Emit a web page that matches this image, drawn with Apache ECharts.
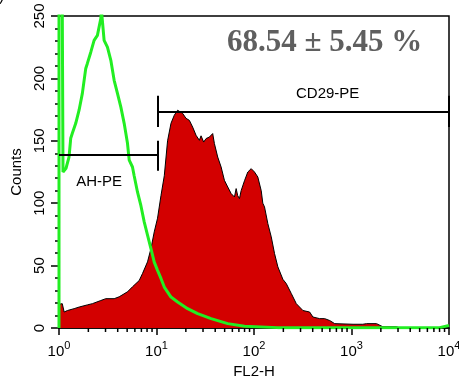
<!DOCTYPE html>
<html>
<head>
<meta charset="utf-8">
<script src="https://cdn.jsdelivr.net/npm/echarts@6/dist/echarts.min.js"></script>
<style>
  html, body { margin: 0; padding: 0; background: #fff; }
  #chart { width: 459px; height: 379px; }
</style>
</head>
<body>
<div id="chart"></div>
<script>
// FL2-H channel (log) and counts
const cd29X = [1, 1.08, 1.13, 1.17, 1.22, 1.43, 1.61, 1.67, 1.95, 2.2, 2.29, 2.68, 3.02, 3.14, 3.68,
  4.14, 4.31, 5.04, 5.67, 5.9, 6.64, 7.18, 7.48, 8.09, 8.41, 8.77, 9.48, 10.25, 11.11, 12.02,
  12.99, 14.08, 15.22, 16.46, 17.14, 18.53, 20.08, 21.72, 23.48, 25.45, 27.52, 28.64, 30.46, 32.25, 34.86,
  37.7, 39.25, 42.44, 45.99, 49.74, 53.79, 58.3, 63.04, 65.6, 68.1, 70.95, 73.8, 79.9, 86.4, 93.6,
  101.2, 109.4, 118.6, 123.1, 128.2, 138.7, 150.3, 162.5, 175.7, 197.8, 214.3, 241.3, 271.6, 317.6, 372.1,
  402.3, 471.6, 530.8, 597.4, 672.6, 1037, 1305, 1424, 1806, 2096, 2899, 3133, 10000]
const cd29Counts = [19, 19.5, 12.8, 12.8, 14, 15.5, 16.8, 17, 18.5, 19.5, 21, 22, 23.5, 23.5, 23.5,
  25, 25, 29, 33, 34, 38, 43.6, 45, 53, 54, 63.6, 77, 88, 106, 122,
  150, 164, 170.5, 174.5, 176, 172, 168, 166.4, 161, 154.4, 150.4, 154, 149, 151.8, 153,
  155.8, 147.8, 137, 129, 118.3, 113, 107.7, 105, 111.7, 106, 103.7, 110, 118, 125, 127.7,
  125, 121, 110, 100, 97, 83.6, 73, 59.6, 49, 39, 35.6, 27.6, 19.5, 14, 12.8,
  8.8, 7.5, 7.5, 6, 3.5, 3, 3, 3.5, 3.5, 1, 1, 0, 0]

const ahX = [1, 1, 1.061, 1.099, 1.18, 1.267, 1.319, 1.37, 1.485, 1.606, 1.736, 1.881, 1.954, 2.118, 2.291, 2.477,
  2.684, 2.723, 2.902, 3.139, 3.401, 3.678, 3.977, 4.31, 4.66, 5.04, 5.25, 5.67, 5.9, 6.38, 6.92,
  7.48, 8.09, 8.77, 9.48, 10.25, 11.11, 12.02, 14.08, 16.46, 20.86, 26.43, 36.3, 53.8, 79.9, 174,
  959, 8000, 10000]
const ahCounts = [0, 400, 400, 125, 128, 137, 152, 156, 164, 174.5, 188, 208, 212, 221, 230.5, 234.5,
  248, 255, 230.5, 225, 214.5, 198.5, 188, 177, 164, 148, 134.5, 129, 122, 109, 98,
  85, 74.5, 63.6, 52.8, 46.2, 39.7, 32.8, 24.8, 20.8, 15.5, 11.5, 7.5, 3.5, 1.4, 0.3,
  0.3, 0.3, 2]

const xMinorTicks = [2, 3, 4, 5, 6, 7, 8, 9, 20, 30, 40, 50, 60, 70, 80, 90,
  200, 300, 400, 500, 600, 700, 800, 900, 2000, 3000, 4000, 5000, 6000, 7000, 8000, 9000]

// gates: [from, to, level, barLow, barHigh]
const ahGate = [1, 10.2, 138.5, 126, 150]
const cd29Gate = [10.2, 10000, 173, 161, 186]
const gateLabels = ['AH-PE', 'CD29-PE']
const gateLabelPos = [[2.58, 116.7], [570, 188]]
const percentText = '68.54 ± 5.45 %'

const pair = (xs, ys) => xs.map((x, i) => [x, ys[i]])
const font = 'Liberation Sans'

const chart = echarts.init(document.getElementById('chart'), null, { renderer: 'canvas' })

chart.setOption({
  animation: false,
  backgroundColor: '#fff',
  grid: {
    left: 59, right: 10, top: 16, bottom: 51,
    outerBoundsMode: 'none', containLabel: false,
    show: true, borderColor: '#000', borderWidth: 1.5, backgroundColor: 'transparent',
  },
  xAxis: {
    type: 'log', logBase: 10, min: 1, max: 10000,
    name: 'FL2-H', nameLocation: 'middle', nameGap: 31,
    nameTextStyle: { fontFamily: font, fontSize: 15, color: '#000' },
    axisLine: { show: true, lineStyle: { color: '#000', width: 1.5 } },
    axisTick: { show: true, length: 7, lineStyle: { color: '#000', width: 1.5 } },
    axisLabel: {
      margin: 12,
      formatter: v => '{b|10}{s|' + Math.round(Math.log10(v)) + '}',
      rich: {
        b: { fontFamily: font, fontSize: 15, color: '#000', lineHeight: 24 },
        s: { fontFamily: font, fontSize: 11, color: '#000', verticalAlign: 'top' },
      },
    },
    splitLine: { show: false },
  },
  yAxis: {
    type: 'value', min: 0, max: 250, interval: 50,
    name: 'Counts', nameLocation: 'middle', nameGap: 33,
    nameTextStyle: { fontFamily: font, fontSize: 15, color: '#000' },
    axisLine: { show: true, lineStyle: { color: '#000', width: 1.5 } },
    axisTick: { show: true, length: 8, lineStyle: { color: '#000', width: 1.5 } },
    minorTick: { show: true, splitNumber: 5, length: 4, lineStyle: { color: '#000', width: 1.5 } },
    axisLabel: { rotate: 90, margin: 12, fontFamily: font, fontSize: 15, color: '#000' },
    splitLine: { show: false },
  },
  series: [
    {
      name: 'CD29-PE',
      type: 'line',
      data: pair(cd29X, cd29Counts),
      symbol: 'none',
      lineStyle: { color: '#000', width: 1 },
      areaStyle: { color: '#d30000', opacity: 1 },
      z: 2,
    },
    {
      name: 'AH-PE',
      type: 'line',
      data: pair(ahX, ahCounts),
      symbol: 'none',
      lineStyle: { color: '#22ee22', width: 3 },
      z: 3,
    },
    {
      // minor ticks of the log axis, placed through the axis scale
      name: 'minorTicks',
      type: 'custom',
      silent: true,
      clip: false,
      z: 4,
      data: xMinorTicks.map(v => [v, 0]),
      renderItem: (params, api) => {
        const p = api.coord([api.value(0), 0])
        return {
          type: 'line',
          shape: { x1: p[0], y1: p[1], x2: p[0], y2: p[1] + 4 },
          style: { stroke: '#000', lineWidth: 1.5 },
        }
      },
    },
    {
      name: 'gates',
      type: 'line',
      data: [],
      z: 5,
      markLine: {
        silent: true,
        symbol: 'none',
        label: { show: false },
        lineStyle: { color: '#000', width: 2, type: 'solid' },
        data: [
          [{ coord: [ahGate[0], ahGate[2]] }, { coord: [ahGate[1], ahGate[2]] }],
          [{ coord: [ahGate[1], ahGate[3]] }, { coord: [ahGate[1], ahGate[4]] }],
          [{ coord: [cd29Gate[0], cd29Gate[2]] }, { coord: [cd29Gate[1], cd29Gate[2]] }],
          [{ coord: [cd29Gate[0], cd29Gate[3]] }, { coord: [cd29Gate[0], cd29Gate[4]] }],
          [{ coord: [cd29Gate[1], cd29Gate[3]] }, { coord: [cd29Gate[1], cd29Gate[4]] }],
        ],
      },
      markPoint: {
        silent: true,
        symbol: 'circle',
        symbolSize: 0,
        label: {
          show: true, position: 'inside', formatter: '{b}',
          fontFamily: font, fontSize: 15, color: '#000',
        },
        data: gateLabels.map((n, i) => ({ name: n, coord: gateLabelPos[i] })),
      },
    },
  ],
  graphic: [
    {
      type: 'text', left: 227, top: 27,
      style: { text: percentText, font: 'bold 31px "Liberation Serif"', fill: '#5f5f5f' },
    },
    {
      type: 'text', left: -1, top: -11,
      style: { text: ')', font: '16px "Liberation Sans"', fill: '#000' },
    },
  ],
})
</script>
</body>
</html>
